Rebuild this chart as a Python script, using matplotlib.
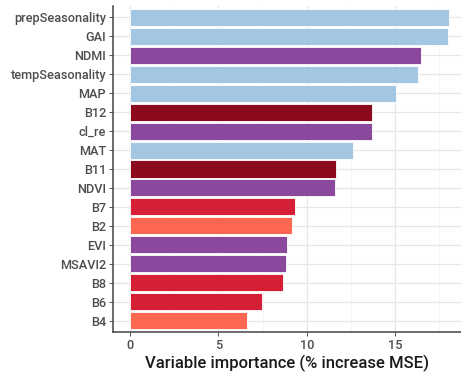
import numpy as np
import matplotlib.pyplot as plt

plt.rcParams['font.family'] = ['Roboto', 'DejaVu Sans']

# variables, top to bottom
variables = ['prepSeasonality', 'GAI', 'NDMI', 'tempSeasonality', 'MAP', 'B12',
             'cl_re', 'MAT', 'B11', 'NDVI', 'B7', 'B2', 'EVI', 'MSAVI2', 'B8',
             'B6', 'B4']
importance = [18.05, 17.97, 16.45, 16.27, 15.07, 13.7, 13.68, 12.6, 11.66, 11.6,
              9.32, 9.15, 8.9, 8.85, 8.68, 7.45, 6.62]
groups = ['climate', 'climate', 'index', 'climate', 'climate', 'swir',
          'index', 'climate', 'swir', 'index', 'rededge', 'visible', 'index',
          'index', 'rededge', 'rededge', 'visible']
xticks = [0, 5, 10, 15]

group_colors = {
    'climate': '#a3c6e2',
    'index': '#8a499d',
    'swir': '#8b0a1e',
    'rededge': '#d61f35',
    'visible': '#fd6650',
}

fig = plt.figure(figsize=(4.61, 3.74), dpi=100)
ax = fig.add_axes([113 / 461, 1 - 332 / 374, 348 / 461, 326 / 374])

y = np.arange(len(variables))[::-1]
cols = [group_colors[g] for g in groups]
ax.barh(y, importance, height=0.9, color=cols, edgecolor='white',
        linewidth=0.6, zorder=3)

ax.set_xlim(-0.96, 18.73)
ax.set_ylim(-0.6, len(variables) - 0.4)

ax.set_yticks(y)
ax.set_yticklabels(variables, fontweight='medium')
ax.set_xticks(xticks)
ax.set_xticklabels([str(t) for t in xticks], fontweight='medium')
ax.set_xticks([2.5, 7.5, 12.5, 17.5], minor=True)

ax.grid(True, which='major', color='#e6e6e6', linewidth=0.9, zorder=0)
ax.grid(True, which='minor', axis='x', color='#f0f0f0', linewidth=0.5, zorder=0)
ax.tick_params(which='minor', length=0)
ax.tick_params(which='major', length=3, width=0.7, color='#555555',
               labelcolor='#4d4d4d', labelsize=9.2, pad=2)

for s in ['top', 'right']:
    ax.spines[s].set_visible(False)
for s in ['left', 'bottom']:
    ax.spines[s].set_color('#444444')
    ax.spines[s].set_linewidth(1.1)

ax.set_xlabel('Variable importance (% increase MSE)', fontsize=12,
              fontweight='medium', color='#1a1a1a', labelpad=2)

fig.savefig('out.png', dpi=100)
